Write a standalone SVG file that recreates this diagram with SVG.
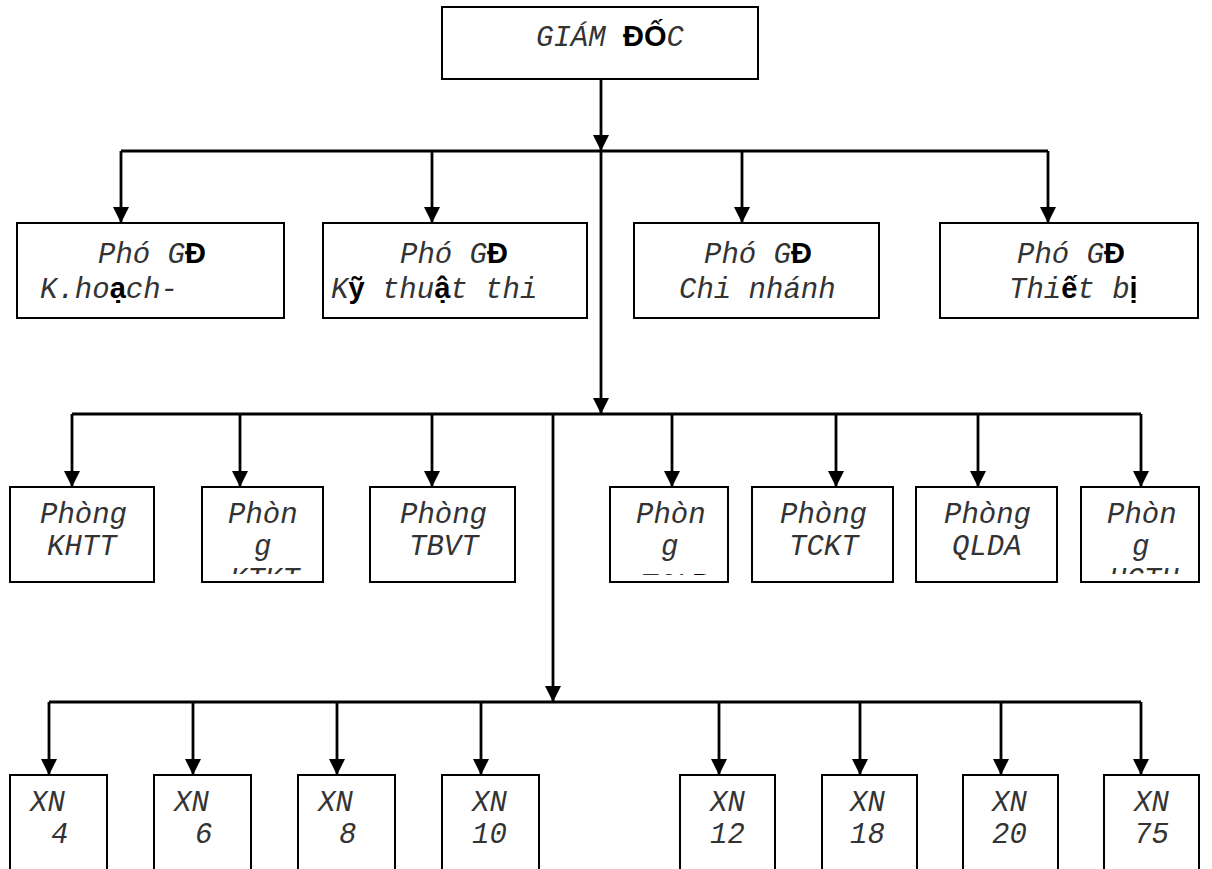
<svg xmlns="http://www.w3.org/2000/svg" width="1212" height="869" viewBox="0 0 1212 869">
  <style>
    .box { fill: #fff; stroke: #000; stroke-width: 2; }
    .wire { fill: none; stroke: #000; stroke-width: 2.8; }
    .t { font-family: "Liberation Mono", "Courier New", monospace; font-style: italic; font-size: 29px; fill: #333; }
    .b { font-family: "Liberation Sans", Arial, sans-serif; font-style: normal; font-weight: bold; fill: #000; }
  </style>
  <defs>
    <marker id="arrow" viewBox="0 0 16 16" refX="16" refY="8" markerWidth="16" markerHeight="16" markerUnits="userSpaceOnUse" orient="auto">
      <path d="M0,0 L16,8 L0,16 Z" fill="#000"/>
    </marker>
    <clipPath id="clip-p2"><rect x="203" y="488" width="119" height="86"/></clipPath>
    <clipPath id="clip-p4"><rect x="611" y="488" width="116" height="87"/></clipPath>
    <clipPath id="clip-p7"><rect x="1082" y="488" width="116" height="86"/></clipPath>
  </defs>

  <!-- connectors -->
  <g id="connectors">
    <!-- director to deputy bus -->
    <path class="wire" d="M601,79 V151" marker-end="url(#arrow)"/>
    <path class="wire" d="M121,151 H1048"/>
    <path class="wire" d="M121,151 V223" marker-end="url(#arrow)"/>
    <path class="wire" d="M432,151 V223" marker-end="url(#arrow)"/>
    <path class="wire" d="M742,151 V223" marker-end="url(#arrow)"/>
    <path class="wire" d="M1048,151 V223" marker-end="url(#arrow)"/>
    <!-- trunk down to department bus -->
    <path class="wire" d="M601,151 V414" marker-end="url(#arrow)"/>
    <path class="wire" d="M72,414 H1141"/>
    <path class="wire" d="M72,414 V487" marker-end="url(#arrow)"/>
    <path class="wire" d="M240,414 V487" marker-end="url(#arrow)"/>
    <path class="wire" d="M432,414 V487" marker-end="url(#arrow)"/>
    <path class="wire" d="M672,414 V487" marker-end="url(#arrow)"/>
    <path class="wire" d="M836,414 V487" marker-end="url(#arrow)"/>
    <path class="wire" d="M978,414 V487" marker-end="url(#arrow)"/>
    <path class="wire" d="M1141,414 V487" marker-end="url(#arrow)"/>
    <!-- branch down to enterprise bus -->
    <path class="wire" d="M553,414 V702" marker-end="url(#arrow)"/>
    <path class="wire" d="M49,702 H1141"/>
    <path class="wire" d="M49,702 V775" marker-end="url(#arrow)"/>
    <path class="wire" d="M193,702 V775" marker-end="url(#arrow)"/>
    <path class="wire" d="M337,702 V775" marker-end="url(#arrow)"/>
    <path class="wire" d="M481,702 V775" marker-end="url(#arrow)"/>
    <path class="wire" d="M719,702 V775" marker-end="url(#arrow)"/>
    <path class="wire" d="M860,702 V775" marker-end="url(#arrow)"/>
    <path class="wire" d="M1001,702 V775" marker-end="url(#arrow)"/>
    <path class="wire" d="M1141,702 V775" marker-end="url(#arrow)"/>
  </g>

  <!-- director -->
  <g id="giam-doc">
    <rect class="box" x="442" y="7" width="316" height="72"/>
    <text class="t" x="536" y="46">GIÁM <tspan class="b">ĐỐ</tspan>C</text>
  </g>

  <!-- deputy directors -->
  <g id="pgd-ke-hoach">
    <rect class="box" x="17" y="223" width="267" height="95"/>
    <text class="t" x="98" y="263">Phó G<tspan class="b">Đ</tspan></text>
    <text class="t" x="40" y="298">K.ho<tspan class="b">ạ</tspan>ch-</text>
  </g>
  <g id="pgd-ky-thuat">
    <rect class="box" x="323" y="223" width="264" height="95"/>
    <text class="t" x="400" y="263">Phó G<tspan class="b">Đ</tspan></text>
    <text class="t" x="331" y="298">K<tspan class="b">ỹ</tspan> thu<tspan class="b">ậ</tspan>t thi</text>
  </g>
  <g id="pgd-chi-nhanh">
    <rect class="box" x="634" y="223" width="245" height="95"/>
    <text class="t" x="704" y="263">Phó G<tspan class="b">Đ</tspan></text>
    <text class="t" x="679" y="298">Chi nhánh</text>
  </g>
  <g id="pgd-thiet-bi">
    <rect class="box" x="940" y="223" width="258" height="95"/>
    <text class="t" x="1017" y="263">Phó G<tspan class="b">Đ</tspan></text>
    <text class="t" x="1009" y="298">Thi<tspan class="b">ế</tspan>t b<tspan class="b">ị</tspan></text>
  </g>

  <!-- departments -->
  <g id="phong-khtt">
    <rect class="box" x="10" y="487" width="144" height="95"/>
    <text class="t" x="40" y="523">Phòng</text>
    <text class="t" x="47" y="555">KHTT</text>
  </g>
  <g id="phong-2">
    <rect class="box" x="202" y="487" width="121" height="95"/>
    <g clip-path="url(#clip-p2)">
      <text class="t" x="228" y="523">Phòn</text>
      <text class="t" x="254" y="555">g</text>
      <text class="t" x="230" y="588">KTKT</text>
    </g>
  </g>
  <g id="phong-tbvt">
    <rect class="box" x="370" y="487" width="145" height="95"/>
    <text class="t" x="400" y="523">Phòng</text>
    <text class="t" x="409" y="555">TBVT</text>
  </g>
  <g id="phong-4">
    <rect class="box" x="610" y="487" width="118" height="95"/>
    <g clip-path="url(#clip-p4)">
      <text class="t" x="636" y="523">Phòn</text>
      <text class="t" x="661" y="555">g</text>
      <text class="t" x="640" y="594">TCL<tspan class="b">Đ</tspan></text>
    </g>
  </g>
  <g id="phong-tckt">
    <rect class="box" x="752" y="487" width="141" height="95"/>
    <text class="t" x="780" y="523">Phòng</text>
    <text class="t" x="789" y="555">TCKT</text>
  </g>
  <g id="phong-qlda">
    <rect class="box" x="916" y="487" width="141" height="95"/>
    <text class="t" x="944" y="523">Phòng</text>
    <text class="t" x="952" y="555">QLDA</text>
  </g>
  <g id="phong-7">
    <rect class="box" x="1081" y="487" width="118" height="95"/>
    <g clip-path="url(#clip-p7)">
      <text class="t" x="1107" y="523">Phòn</text>
      <text class="t" x="1132" y="555">g</text>
      <text class="t" x="1109" y="588">HCTH</text>
    </g>
  </g>

  <!-- enterprises -->
  <g id="xn-4">
    <rect class="box" x="10" y="775" width="97" height="110"/>
    <text class="t" x="30" y="811">XN</text>
    <text class="t" x="51" y="843">4</text>
  </g>
  <g id="xn-6">
    <rect class="box" x="154" y="775" width="97" height="110"/>
    <text class="t" x="174" y="811">XN</text>
    <text class="t" x="195" y="843">6</text>
  </g>
  <g id="xn-8">
    <rect class="box" x="298" y="775" width="97" height="110"/>
    <text class="t" x="318" y="811">XN</text>
    <text class="t" x="339" y="843">8</text>
  </g>
  <g id="xn-10">
    <rect class="box" x="442" y="775" width="97" height="110"/>
    <text class="t" x="472" y="811">XN</text>
    <text class="t" x="472" y="843">10</text>
  </g>
  <g id="xn-12">
    <rect class="box" x="680" y="775" width="95" height="110"/>
    <text class="t" x="710" y="811">XN</text>
    <text class="t" x="710" y="843">12</text>
  </g>
  <g id="xn-18">
    <rect class="box" x="822" y="775" width="95" height="110"/>
    <text class="t" x="850" y="811">XN</text>
    <text class="t" x="850" y="843">18</text>
  </g>
  <g id="xn-20">
    <rect class="box" x="963" y="775" width="95" height="110"/>
    <text class="t" x="992" y="811">XN</text>
    <text class="t" x="992" y="843">20</text>
  </g>
  <g id="xn-75">
    <rect class="box" x="1104" y="775" width="95" height="110"/>
    <text class="t" x="1134" y="811">XN</text>
    <text class="t" x="1134" y="843">75</text>
  </g>
</svg>
